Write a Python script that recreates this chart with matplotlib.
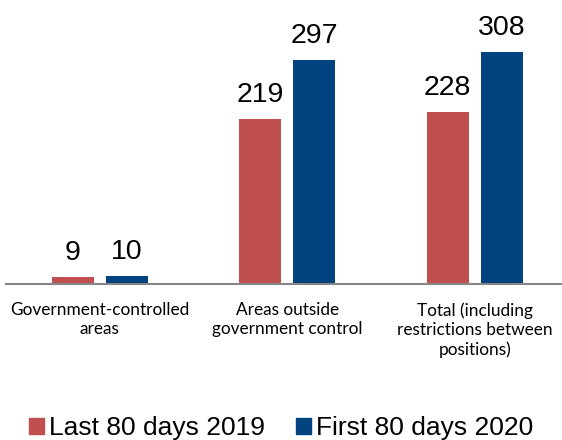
import matplotlib
matplotlib.use('Agg')
from matplotlib import pyplot as plt
from matplotlib.patches import Patch
import numpy as np

CATEGORIES = ['Government-controlled\nareas',
              'Areas outside\ngovernment control',
              'Total (including\nrestrictions between\npositions)']
SERIES = ['Last 80 days 2019', 'First 80 days 2020']
VALUES_2019 = [9, 219, 228]
VALUES_2020 = [10, 297, 308]
COLORS = ['#C0504D', '#03437F']


def main():
    plt.rcParams['font.family'] = ['Liberation Sans', 'DejaVu Sans']
    fig = plt.figure(figsize=(5.62, 4.4), dpi=100)
    ax = fig.add_axes([6 / 562, 156 / 440, 1 - 6 / 562, 284 / 440])

    x = np.arange(len(CATEGORIES))
    width = 0.224
    offset = 0.144
    for vals, col, sign in [(VALUES_2019, COLORS[0], -1), (VALUES_2020, COLORS[1], 1)]:
        bars = ax.bar(x + sign * offset, vals, width, color=col)
        for b, v in zip(bars, vals):
            ax.annotate(str(v), (b.get_x() + b.get_width() / 2, v),
                        xytext=(0, 12.5), textcoords='offset points',
                        ha='center', va='baseline', fontsize=20.5)

    ax.set_xlim(-0.5, (562 - 6) / 187.5 - 0.5)
    ax.set_ylim(0, 377)
    ax.set_xticks(x)
    ax.set_xticklabels(CATEGORIES, fontsize=12.4, family=['Lato', 'DejaVu Sans'],
                       linespacing=1.25)
    ax.tick_params(axis='x', length=0, pad=13)
    ax.set_yticks([])
    for s in ['top', 'right', 'left']:
        ax.spines[s].set_visible(False)
    ax.spines['bottom'].set_color('#868686')
    ax.spines['bottom'].set_linewidth(1.5)

    handles = [Patch(color=c) for c in COLORS]
    fig.legend(handles, SERIES, loc='lower center', bbox_to_anchor=(0.5, 0.0),
               ncol=2, frameon=False, fontsize=19, handlelength=0.55,
               handleheight=0.55, handletextpad=0.19, columnspacing=1.2,
               borderpad=0, borderaxespad=0)

    fig.savefig('out.png', dpi=100)


if __name__ == '__main__':
    main()
